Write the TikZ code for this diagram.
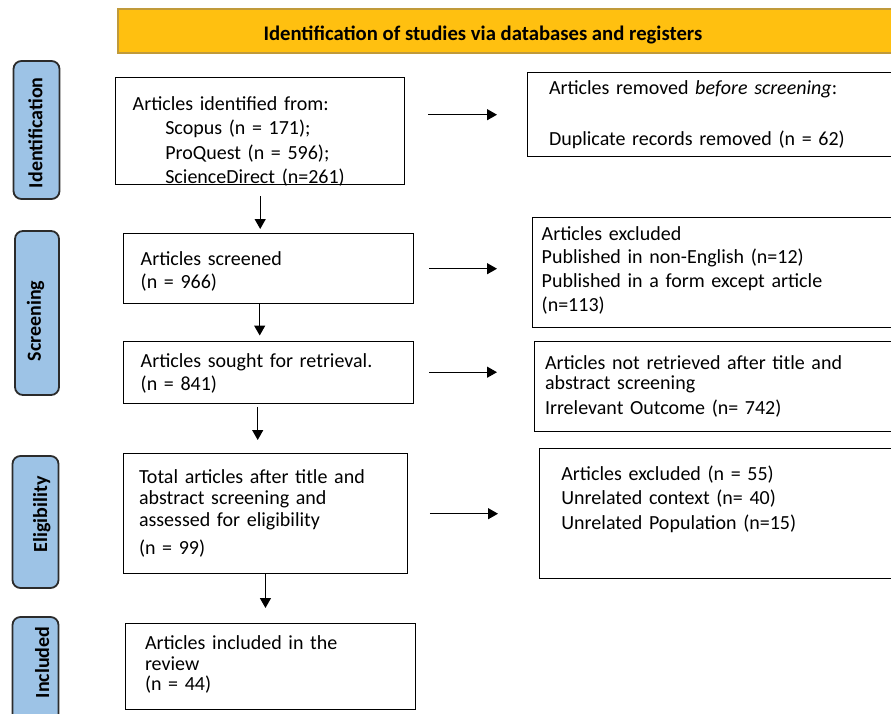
\documentclass[tikz,border=0pt]{standalone}
\usepackage{fontspec}
\setmainfont{Carlito}
\usetikzlibrary{arrows.meta}
\definecolor{bannerfill}{HTML}{FFC010}
\definecolor{bannerline}{HTML}{C09A3A}
\definecolor{tabfill}{HTML}{9DC3E6}
\definecolor{tabline}{HTML}{2B2B2B}

\begin{document}
\begin{tikzpicture}[x=1pt, y=-1pt,
        box/.style={draw, line width=1.4pt, anchor=north west, align=left, inner ysep=0pt, font=\fontsize{20pt}{#1}\selectfont},
        tab/.style={draw=tabline, fill=tabfill, line width=1.8pt, rounded corners=8pt, minimum width=46pt},
        tabtext/.style={rotate=90, anchor=base, inner sep=0pt, font=\fontsize{20pt}{24pt}\selectfont\bfseries},
        arrow/.style={-{Triangle[length=10pt,width=11pt]}, line width=1.3pt}]
    \useasboundingbox (0,0) rectangle (891,713);
    \clip (0,0) rectangle (891,713);

    \node[draw=bannerline, fill=bannerfill, line width=2pt, anchor=north west, minimum width=790pt, minimum height=44pt, inner sep=0pt] (banner) at (117,8) {};
    \node[anchor=base west, inner sep=0pt, font=\fontsize{20.7pt}{24pt}\selectfont\bfseries] (bannertext) at (263.3,40.7) {Identification of studies via databases and registers};

    \node[tab, minimum height=138pt] (idtab) at (36.5,130) {};
    \node[tabtext] at (42.3,132.7) {Identification};
    \node[tab, minimum width=44pt, minimum height=164pt] (scrtab) at (37,313) {};
    \node[tabtext] at (40.8,321) {Screening};
    \node[tab, minimum height=132pt] (eltab) at (35.5,522) {};
    \node[tabtext] at (47,514.2) {Eligibility};
    \node[tab, minimum height=120pt] (inctab) at (35.5,677) {};
    \node[tabtext] at (49,662.5) {Included};

    \node[box=24.2pt, inner xsep=17pt, text width=255pt, text height=33pt, text depth=74pt] (b1) at (115,77)
        {Articles identified from:\\\hspace*{32.6pt}Scopus (n = 171);\\\hspace*{32.6pt}ProQuest (n = 596);\\\hspace*{32.6pt}ScienceDirect (n=261)};
    \node[box=23.4pt, inner xsep=17pt, text width=256pt, text height=31.3pt, text depth=38.7pt] (b2) at (123,233)
        {Articles screened\\(n = 966)};
    \node[box=22.6pt, inner xsep=17pt, text width=256pt, text height=26.2pt, text depth=35.8pt] (b3) at (123,340.5)
        {Articles sought for retrieval.\\(n = 841)};
    \node[box=21.7pt, inner xsep=15.3pt, text width=252.9pt, text height=29.3pt, text depth=90.7pt] (b4) at (123,453)
        {Total articles after title and\\abstract screening and\\assessed for eligibility\\[6.6pt](n = 99)};
    \node[box=20.6pt, inner xsep=19.3pt, text width=250.9pt, text height=26pt, text depth=60pt] (b5) at (125,623)
        {Articles included in the\\review\\(n = 44)};

    \node[box=25.85pt, inner xsep=21.3pt, text width=325.4pt, text height=21.3pt, text depth=62.7pt] (r1) at (527,72)
        {Articles removed \emph{before screening}:\\[25.85pt]Duplicate records removed (n = 62)};
    \node[box=23.8pt, inner xsep=9pt, text width=345pt, text height=22.3pt, text depth=87.7pt] (r2) at (532,217)
        {Articles excluded\\Published in non-English (n=12)\\Published in a form except article\\(n=113)};
    \node[box=20pt, inner xsep=10.3pt, text width=340.4pt, text height=27.3pt, text depth=62.7pt] (r3) at (534,341)
        {Articles not retrieved after title and\\abstract screening\\[5pt]Irrelevant Outcome (n= 742)};
    \node[box=24.2pt, inner xsep=21.7pt, text width=312.6pt, text height=32pt, text depth=98pt] (r4) at (539,448)
        {Articles excluded (n = 55)\\Unrelated context (n= 40)\\Unrelated Population (n=15)};

    \draw[arrow, shorten <=23pt, shorten >=30pt] (b1.east |- r1.west) -- (r1.west);
    \draw[arrow, shorten <=15pt, shorten >=35pt] (b2.east) -- (b2.east -| r2.west);
    \draw[arrow, shorten <=15pt, shorten >=37pt] (b3.east) -- (b3.east -| r3.west);
    \draw[arrow, shorten <=22pt, shorten >=41pt] (b4.east) -- (b4.east -| r4.west);

    \draw[arrow, shorten <=11pt, shorten >=4pt] (b1.south) -- (b1.south |- b2.north);
    \coordinate (v2) at ([xshift=-9pt]b2.south);
    \draw[arrow, shorten >=5pt] (v2) -- (v2 |- b3.north);
    \coordinate (v3) at ([xshift=-11pt]b3.south);
    \draw[arrow, shorten <=3pt, shorten >=13pt] (v3) -- (v3 |- b4.north);
    \draw[arrow, shorten >=15pt] (b4.south) -- (b4.south |- b5.north);
\end{tikzpicture}
\end{document}
